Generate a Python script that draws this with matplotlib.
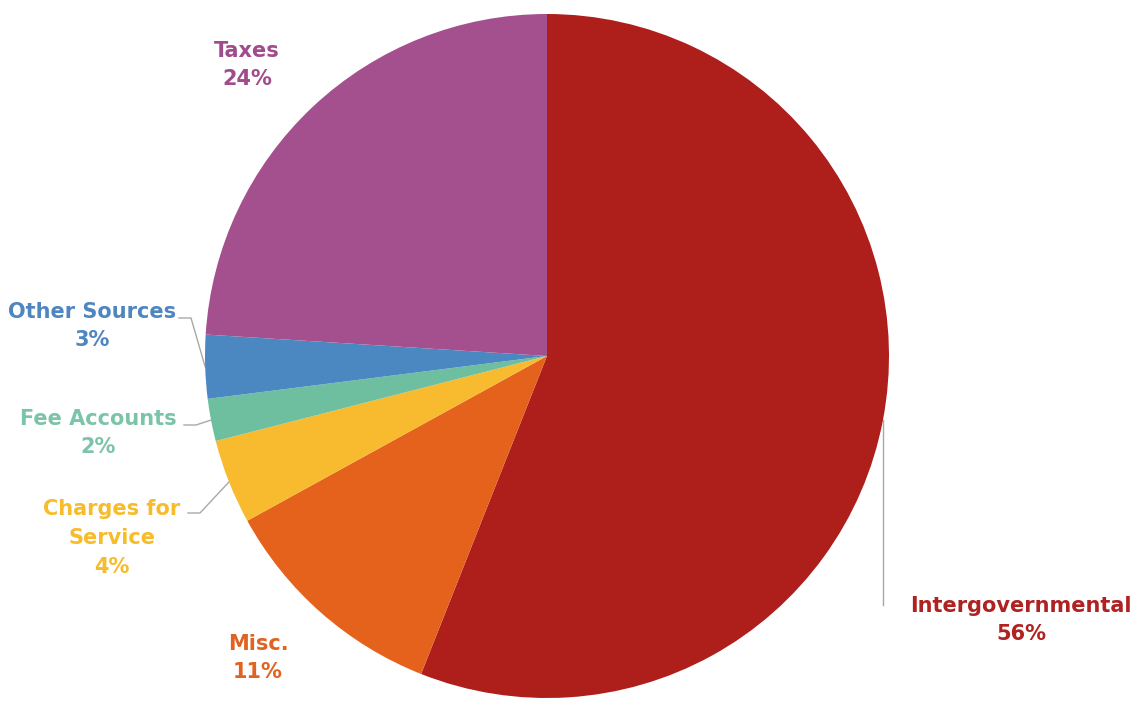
import matplotlib.pyplot as plt
import numpy as np

# slices, clockwise from 12 o'clock
labels = ["Intergovernmental", "Misc.", "Charges for\nService", "Fee Accounts",
          "Other Sources", "Taxes"]
shares = [56, 11, 4, 2, 3, 24]
colors = ["#AE1F1C", "#E5621C", "#F8BA2E", "#6EBFA0", "#4B88C2", "#A4508E"]
text_colors = ["#B02222", "#E06322", "#F6BC2C", "#7CC4A8", "#4F86BF", "#A04C8C"]

fig = plt.figure(figsize=(11.42, 7.04), dpi=100)
ax = fig.add_axes([0, 0, 1, 1])

cx, cy, r = 547, -356, 342
wedges, _ = ax.pie(shares, colors=colors, startangle=90, counterclock=False,
                   center=(cx, cy), radius=r, frame=True,
                   wedgeprops=dict(linewidth=0))
ax.set_xlim(0, 1142)
ax.set_ylim(-704, 0)
ax.set_aspect("equal")
ax.axis("off")

# label anchors (pixel coords, y down) and leader lines
label_pos = {
    "Intergovernmental": (1021, 620),
    "Misc.": (258, 658),
    "Charges for\nService": (112, 538),
    "Fee Accounts": (98, 433),
    "Other Sources": (92, 326),
    "Taxes": (247, 65),
}
leaders = {
    "Intergovernmental": [(None, 605)],   # straight down from the edge
    "Charges for\nService": [(200, 513), (188, 513)],
    "Fee Accounts": [(196, 425), (184, 425)],
    "Other Sources": [(191, 318), (179, 318)],
}

for w, lab, s, tc in zip(wedges, labels, shares, text_colors):
    mid = np.deg2rad((w.theta1 + w.theta2) / 2)
    ex, ey = cx + r * np.cos(mid), cy + r * np.sin(mid)
    if lab in leaders:
        pts = [(ex, ey)] + [(ex if x is None else x, -y) for x, y in leaders[lab]]
        xs, ys = zip(*pts)
        ax.plot(xs, ys, color="#A8A8A8", lw=1.0, zorder=0)
    x, y = label_pos[lab]
    ax.text(x, -y, f"{lab}\n{s}%", ha="center", va="center", color=tc,
            fontsize=15, fontweight="bold", family="DejaVu Sans",
            linespacing=1.55)

fig.savefig("out.png", dpi=100)
